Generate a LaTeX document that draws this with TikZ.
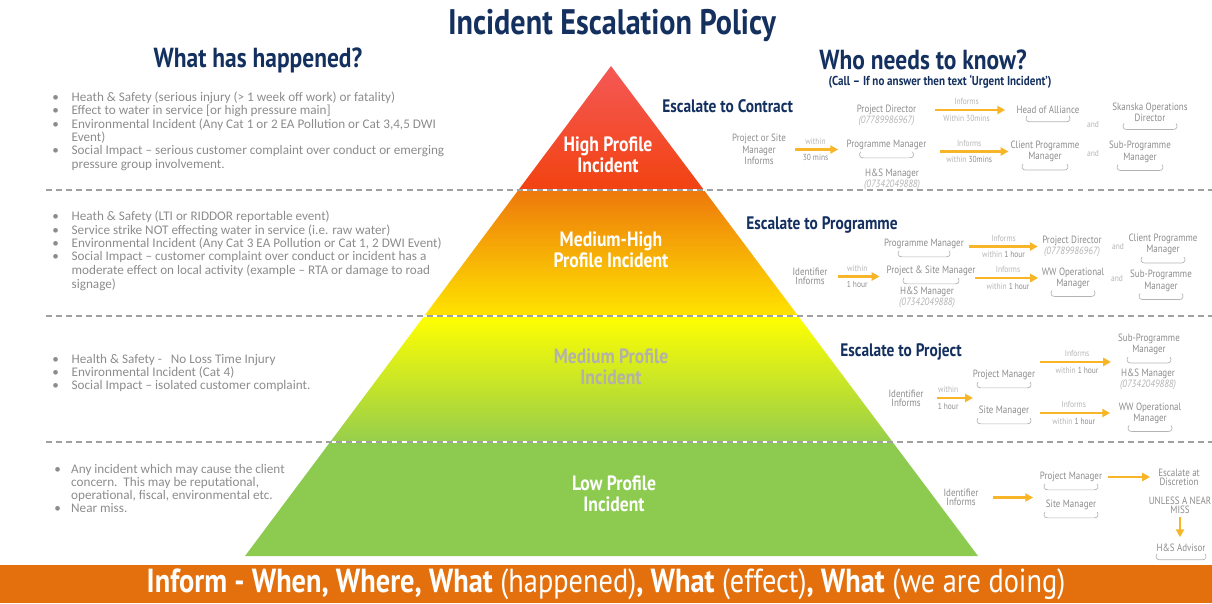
\documentclass[tikz,border=0pt]{standalone}
\usepackage{fontspec}
\setmainfont{PT Sans}[FakeStretch=0.85]
\newfontfamily\listfont{Carlito}
\usetikzlibrary{calc,arrows.meta}

\definecolor{navy}{HTML}{14305F}
\definecolor{txtgray}{HTML}{8C8C8C}
\definecolor{softgray}{HTML}{B4B4B4}
\definecolor{amber}{HTML}{F7B527}
\definecolor{bannerorange}{HTML}{E3700D}
\definecolor{dashgray}{HTML}{A0A0A0}
\definecolor{hpTop}{HTML}{F45A5A}
\definecolor{hpBot}{HTML}{F24210}
\definecolor{mhTop}{HTML}{EE780C}
\definecolor{mhMid}{HTML}{F6A500}
\definecolor{mhBot}{HTML}{FFE400}
\definecolor{mpMid}{HTML}{F0F600}
\definecolor{mpBot}{HTML}{96CE4C}
\definecolor{lpFill}{HTML}{8CCB4F}
\definecolor{mpText}{HTML}{B2B2A8}

\tikzset{
  role/.style={inner sep=0pt, outer sep=0pt, align=center, text=txtgray,
    font=\fontsize{6}{5.2}\selectfont, minimum width=#1*0.567pt},
  role/.default=0,
  soft/.style={inner sep=0pt, text=softgray, font=\fontsize{5}{5}\selectfont},
  flow/.style={draw=amber, line width=1.3pt, -{Triangle[length=4.5pt,width=4.6pt]}},
  esc/.style={anchor=west, inner sep=0pt, text=navy, font=\bfseries\fontsize{10.3}{12}\selectfont},
  level/.style={align=center, text=white, font=\bfseries\fontsize{11.8}{12.2}\selectfont},
  list/.style={anchor=base west, inner sep=0pt, text=txtgray, font=\listfont\fontsize{7.5}{7.54}\selectfont},
  slotline/.style={draw=softgray, line width=0.4pt},
  heading/.style={inner sep=0pt, text=navy, font=\bfseries\fontsize{15.7}{17}\selectfont},
}

% empty bracket under a name
\newcommand\slot[2]{\draw[slotline] ($(#1.south)+(-#2+1,2)$) .. controls ($(#1.south)+(-#2-1,5)$) and ($(#1.south)+(-#2,8)$) .. ($(#1.south)+(-#2+4,8)$) -- ($(#1.south)+(#2-4,8)$) .. controls ($(#1.south)+(#2,8)$) and ($(#1.south)+(#2+1,5)$) .. ($(#1.south)+(#2-1,2)$);}
\newcommand\dk[1]{\textcolor{txtgray}{#1}}
\newcommand\tel[1]{{\itshape\color{softgray}#1}}

\begin{document}
\begin{tikzpicture}[x=0.02cm, y=-0.02cm]
\useasboundingbox (0,0) rectangle (1212,603);

% pyramid
\coordinate (apex) at (611,66);
\coordinate (baseL) at (245,556);
\coordinate (baseR) at (978,556);
\begin{scope}
  \clip (apex) -- (baseR) -- (baseL) -- cycle;
  \shade[top color=hpTop, middle color=red, bottom color=hpBot] (230,60) rectangle (990,190);
  \shade[top color=mhTop, middle color=mhMid, bottom color=mhBot] (230,190) rectangle (990,316);
  \shade[top color=yellow, middle color=mpMid, bottom color=mpBot] (230,316) rectangle (990,442);
  \fill[lpFill] (230,442) rectangle (990,560);
\end{scope}

\foreach \y in {190,316,442}{
  \draw[white, line width=1.6pt] (46,\y) -- (1212,\y);
  \draw[dashgray, line width=0.8pt, dash pattern=on 3.4pt off 2.3pt] (46,\y) -- (1212,\y);
}

\node[level] (hpLabel) at (608,155) {High Profile\\Incident};
\node[level] (mhLabel) at (611,250) {Medium-High\\Profile Incident};
\node[level, text=mpText] (mpLabel) at (611,367) {Medium Profile\\Incident};
\node[level] (lpLabel) at (614,494) {Low Profile\\Incident};

% headings
\node[heading, font=\bfseries\fontsize{20.2}{22}\selectfont] (title) at (612,26) {Incident Escalation Policy};
\node[heading] (what) at (258,60) {What has happened?};
\node[heading] (who) at (923,60) {Who needs to know?};
\node[inner sep=0pt, text=navy, font=\bfseries\fontsize{7.4}{8}\selectfont] (call) at (940,81.5) {(Call – If no answer then text ‘Urgent Incident’)};

% what has happened
\node[list] (hpList) at (52,101) {\begin{tabular}[t]{@{}p{11pt}@{}l@{}}
\textbullet & Heath \& Safety (serious injury (> 1 week off work) or fatality)\\
\textbullet & Effect to water in service [or high pressure main]\\
\textbullet & Environmental Incident (Any Cat 1 or 2 EA Pollution or Cat 3,4,5 DWI\\
 & Event)\\
\textbullet & Social Impact – serious customer complaint over conduct or emerging\\
 & pressure group involvement.
\end{tabular}};
\node[list] (mhList) at (52,220.5) {\begin{tabular}[t]{@{}p{11pt}@{}l@{}}
\textbullet & Heath \& Safety (LTI or RIDDOR reportable event)\\
\textbullet & Service strike NOT effecting water in service (i.e. raw water)\\
\textbullet & Environmental Incident (Any Cat 3 EA Pollution or Cat 1, 2 DWI Event)\\
\textbullet & Social Impact – customer complaint over conduct or incident has a\\
 & moderate effect on local activity (example – RTA or damage to road\\
 & signage)
\end{tabular}};
\node[list] (mpList) at (52,363) {\begin{tabular}[t]{@{}p{11pt}@{}l@{}}
\textbullet & Health \& Safety -\ \ \ No Loss Time Injury\\
\textbullet & Environmental Incident (Cat 4)\\
\textbullet & Social Impact – isolated customer complaint.
\end{tabular}};
\node[list] (lpList) at (54,473) {\begin{tabular}[t]{@{}p{9.6pt}@{}l@{}}
\textbullet & Any incident which may cause the client\\
 & concern.\ \ This may be reputational,\\
 & operational, fiscal, environmental etc.\\
\textbullet & Near miss.
\end{tabular}};

% escalate to contract
\node[esc] (escContract) at (662,106) {Escalate to Contract};
\node[role=61] (pd1) at (886.5,115.5) {Project Director\\\tel{(07789986967)}};
\node[role=64] (hoa) at (1048,110) {Head of Alliance};
\node[soft] (and1) at (1093,124) {and};
\node[role=77] (sod) at (1150,112) {Skanska Operations\\Director};
\node[role=54] (psm1) at (759,149.5) {Project or Site\\Manager\\Informs};
\node[role=83] (pgm1) at (886.5,145) {Programme Manager};
\node[role=45] (hs1) at (892,179.5) {H\&S Manager\\\tel{(07342049888)}};
\node[role=66] (cpm1) at (1045,151.5) {Client Programme\\Manager};
\node[soft] (and2) at (1093,153) {and};
\node[role=61] (spm1) at (1140,152) {Sub-Programme\\Manager};
\slot{hoa}{22} \slot{sod}{27} \slot{pgm1}{27} \slot{cpm1}{23} \slot{spm1}{23}
\draw[flow, shorten <=18*0.567pt, shorten >=11*0.567pt] (pd1.east |- hoa.west) -- (hoa.west)
  node[soft, midway, above=2.2pt] {Informs} node[soft, midway, below=2.2pt] {Within 30mins};
\draw[flow, shorten <=9*0.567pt, shorten >=7*0.567pt] (psm1.east) -- (psm1.east -| pgm1.west)
  node[soft, midway, above=2.2pt] {within} node[soft, midway, below=2.2pt] {\dk{30 mins}};
\draw[flow, shorten <=12*0.567pt, shorten >=2*0.567pt] (pgm1.east |- cpm1.west) -- (cpm1.west)
  node[soft, midway, above=2.2pt] {Informs} node[soft, midway, below=2.2pt] {within \dk{30mins}};

% escalate to programme
\node[esc] (escProgramme) at (746,225) {Escalate to Programme};
\node[role=82] (pgm2) at (924,244) {Programme Manager};
\node[role=59] (pd2) at (1072,246.5) {Project Director\\\tel{(07789986967)}};
\node[soft] (and3) at (1118,246) {and};
\node[role=69] (cpm2) at (1163,244.5) {Client Programme\\Manager};
\node[role=36] (idf2) at (810,276.5) {Identifier\\Informs};
\node[role=88] (psm2) at (931,271) {Project \& Site Manager};
\node[role=53] (hs2) at (927,297.5) {H\&S Manager\\\tel{(07342049888)}};
\node[role=65] (wwo2) at (1073,278) {WW Operational\\Manager};
\node[soft] (and4) at (1117,278) {and};
\node[role=62] (spm2) at (1161,281) {Sub-Programme\\Manager};
\slot{pgm2}{26} \slot{cpm2}{22} \slot{psm2}{28} \slot{wwo2}{22} \slot{spm2}{22}
\draw[flow, shorten <=4*0.567pt, shorten >=4.5*0.567pt] (pgm2.east |- pd2.west) -- (pd2.west)
  node[soft, midway, above=2.2pt] {Informs} node[soft, midway, below=2.2pt] {within \dk{1 hour}};
\draw[flow, shorten <=10*0.567pt, shorten >=7*0.567pt] (idf2.east) -- (idf2.east -| psm2.west)
  node[soft, midway, above=2.2pt] {within} node[soft, midway, below=2.2pt] {\dk{1 hour}};
\draw[flow, shorten >=2.5*0.567pt] (psm2.east |- wwo2.west) -- (wwo2.west)
  node[soft, midway, above=2.2pt] {Informs} node[soft, midway, below=2.2pt] {within \dk{1 hour}};

% escalate to project
\node[esc] (escProject) at (840,352) {Escalate to Project};
\node[role=62] (spm3) at (1149,344.5) {Sub-Programme\\Manager};
\node[role=53] (hs3) at (1148,379.5) {H\&S Manager\\\tel{(07342049888)}};
\node[role=62] (pm3) at (1004,375) {Project Manager};
\node[role=35] (idf3) at (906,398) {Identifier\\Informs};
\node[role=52] (sm3) at (1004,411) {Site Manager};
\node[role=65] (wwo3) at (1150,413) {WW Operational\\Manager};
\coordinate (p3mid) at ($(spm3.south west)!0.5!(hs3.north west)$);
\slot{spm3}{22} \slot{pm3}{27} \slot{sm3}{27} \slot{wwo3}{22}
\draw[flow, shorten <=5*0.567pt, shorten >=8*0.567pt] (pm3.east |- p3mid) -- (p3mid)
  node[soft, midway, above=2.2pt] {Informs} node[soft, midway, below=2.2pt] {within \dk{1 hour}};
\draw[flow, shorten <=13.5*0.567pt] (idf3.east) -- (idf3.east -| pm3.west)
  node[soft, midway, above=2.2pt] {within} node[soft, midway, below=2.2pt] {\dk{1 hour}};
\draw[flow, shorten <=10*0.567pt, shorten >=7.5*0.567pt] (sm3.east |- wwo3.west) -- (wwo3.west)
  node[soft, midway, above=2.2pt] {Informs} node[soft, midway, below=2.2pt] {within \dk{1 hour}};

% low profile
\node[role=33] (idf4) at (961,497.5) {Identifier\\Informs};
\node[role=64] (pm4) at (1071,477) {Project Manager};
\node[role=52] (sm4) at (1071,505) {Site Manager};
\node[role=43] (discretion) at (1179,477) {Escalate at\\Discretion};
\node[role=60] (unless) at (1180,505.5) {UNLESS A NEAR\\MISS};
\node[role=48] (hsa) at (1181,548) {H\&S Advisor};
\slot{pm4}{27} \slot{sm4}{27} \slot{hsa}{25}
\draw[flow, shorten <=14.5*0.567pt, shorten >=6*0.567pt] (idf4.east) -- (idf4.east -| pm4.west);
\draw[flow, shorten <=5*0.567pt, shorten >=7.5*0.567pt] (pm4.east |- discretion.west) -- (discretion.west);
\draw[flow, shorten <=3.5*0.567pt, shorten >=7*0.567pt] (unless.south) -- (unless.south |- hsa.north);

% banner
\fill[bannerorange] (0,565) rectangle (1212,603);
\node[text=white, font=\fontsize{19}{20}\selectfont] (inform) at (606,584)
  {\textbf{Inform - When, Where, What} (happened)\textbf{, What} (effect)\textbf{, What} (we are doing)};
\end{tikzpicture}
\end{document}
